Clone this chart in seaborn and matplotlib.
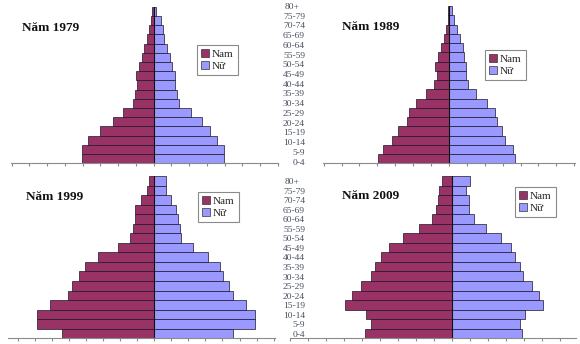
import math
import matplotlib
matplotlib.use("Agg")
import matplotlib.pyplot as plt
import seaborn as sns
import pandas as pd
from matplotlib.patches import Patch

# ---------------- data ----------------
ages = ["0-4", "5-9", "10-14", "15-19", "20-24", "25-29", "30-34", "35-39", "40-44",
        "45-49", "50-54", "55-59", "60-64", "65-69", "70-74", "75-79", "80+"]

years = ["1979", "1989", "1999", "2009"]

nam_1979 = [4.05, 4.05, 3.71, 3.02, 2.27, 1.74, 1.16, 1.07, 0.96, 0.98, 0.83, 0.68, 0.53, 0.39, 0.26, 0.15, 0.08]
nu_1979 = [3.96, 3.96, 3.55, 3.17, 2.74, 2.10, 1.43, 1.29, 1.20, 1.20, 1.01, 0.92, 0.73, 0.60, 0.51, 0.41, 0.13]

nam_1989 = [3.95, 3.67, 3.20, 2.83, 2.36, 2.23, 1.86, 1.28, 0.84, 0.67, 0.78, 0.63, 0.45, 0.28, 0.17, 0.07, 0.04]
nu_1989 = [3.69, 3.56, 3.13, 2.98, 2.70, 2.57, 2.10, 1.49, 1.08, 0.93, 0.93, 0.84, 0.76, 0.61, 0.43, 0.30, 0.19]

nam_1999 = [5.41, 6.88, 6.88, 6.10, 5.06, 4.82, 4.39, 4.04, 3.29, 2.14, 1.43, 1.24, 1.14, 1.14, 0.80, 0.45, 0.31]
nu_1999 = [4.63, 5.90, 5.90, 5.37, 4.63, 4.39, 4.04, 3.84, 3.18, 2.27, 1.59, 1.49, 1.39, 1.29, 0.96, 0.71, 0.67]

nam_2009 = [4.83, 4.50, 4.80, 5.94, 5.57, 5.07, 4.50, 4.28, 3.94, 3.48, 2.70, 1.81, 1.13, 0.91, 0.80, 0.70, 0.57]
nu_2009 = [3.87, 3.78, 4.06, 5.07, 4.85, 4.43, 3.96, 3.78, 3.50, 3.26, 2.70, 1.87, 1.24, 0.96, 0.96, 0.78, 1.00]

series = {"1979": (nam_1979, nu_1979), "1989": (nam_1989, nu_1989),
          "1999": (nam_1999, nu_1999), "2009": (nam_2009, nu_2009)}

# ---------------- style / layout ----------------
sns.set_theme(style="white")
plt.rcParams["font.family"] = ["Liberation Serif", "DejaVu Serif"]

W, H = 580, 344
fig = plt.figure(figsize=(W / 100, H / 100), dpi=100)
fig.patch.set_facecolor("white")

NAM_C = "#993366"
NU_C = "#9999FF"
EDGE = "#1e1428"

layout = {
    "1979": dict(box=(11, 278, 6.7, 163.3), xlim=(-8.03, 7.0), title=(22, 28), leg=(197, 45)),
    "1989": dict(box=(323.3, 575, 6.0, 163.3), xlim=(-7.02, 7.04), title=(342, 27), leg=(485, 50)),
    "1999": dict(box=(8.3, 275, 176, 338.3), xlim=(-8.55, 7.08), title=(26, 197), leg=(198, 192)),
    "2009": dict(box=(290, 576, 176, 338.3), xlim=(-9.0, 6.89), title=(342, 196), leg=(515, 187)),
}

order = ages[::-1]

for yr in years:
    nam, nu = series[yr]
    L = layout[yr]
    x0, x1, yt, yb = L["box"]
    ax = fig.add_axes([x0 / W, 1 - yb / H, (x1 - x0) / W, (yb - yt) / H])
    ax.set_facecolor("none")
    df_nam = pd.DataFrame({"age": ages, "value": [-v for v in nam]})
    df_nu = pd.DataFrame({"age": ages, "value": nu})
    sns.barplot(data=df_nam, x="value", y="age", order=order, orient="h",
                color=NAM_C, saturation=1, width=1.0, edgecolor=EDGE,
                linewidth=0.5, ax=ax)
    sns.barplot(data=df_nu, x="value", y="age", order=order, orient="h",
                color=NU_C, saturation=1, width=1.0, edgecolor=EDGE,
                linewidth=0.5, ax=ax)
    ax.axvline(0, color="#111111", lw=0.8, zorder=5)
    ax.set_xlim(*L["xlim"])
    ax.set_ylim(16.5, -0.5)
    lo, hi = L["xlim"]
    ax.set_xticks(list(range(math.ceil(lo), math.floor(hi) + 1)))
    ax.set_xticklabels([])
    ax.set_yticks([])
    ax.set_xlabel("")
    ax.set_ylabel("")
    for s in ("left", "top", "right"):
        ax.spines[s].set_visible(False)
    ax.spines["bottom"].set_color("#8a8a8a")
    ax.spines["bottom"].set_linewidth(0.8)
    ax.tick_params(axis="x", bottom=True, direction="out", length=2.5,
                   width=0.8, color="#8a8a8a")

    tx, ty = L["title"]
    fig.text(tx / W, 1 - ty / H, "Năm " + yr, fontsize=9.5, fontweight="bold",
             ha="left", va="center", color="#111111")

    lx, ly = L["leg"]
    handles = [Patch(facecolor=NAM_C, edgecolor="#333333", lw=0.5, label="Nam"),
               Patch(facecolor=NU_C, edgecolor="#333333", lw=0.5, label="Nữ")]
    leg = ax.legend(handles=handles, loc="upper left",
                    bbox_to_anchor=(lx / W, 1 - ly / H), bbox_transform=fig.transFigure,
                    fontsize=8, frameon=True, fancybox=False, framealpha=1,
                    edgecolor="#8a8a8a", handlelength=0.7, handleheight=0.7,
                    handletextpad=0.3, borderpad=0.35, labelspacing=0.2,
                    borderaxespad=0)
    leg.get_frame().set_linewidth(0.8)

# age labels in the middle column
for top, bot in ((7.0, 162.5), (182.0, 335.0)):
    n = len(order)
    for i, a in enumerate(order):
        y = top + (bot - top) * i / (n - 1)
        if a == "80+":
            fig.text(285 / W, 1 - y / H, a, fontsize=6.8, ha="left", va="center",
                     color="#4a4f60")
        else:
            fig.text(305 / W, 1 - y / H, a, fontsize=6.8, ha="right", va="center",
                     color="#4a4f60")

fig.savefig("out.png", dpi=100, facecolor="white")
